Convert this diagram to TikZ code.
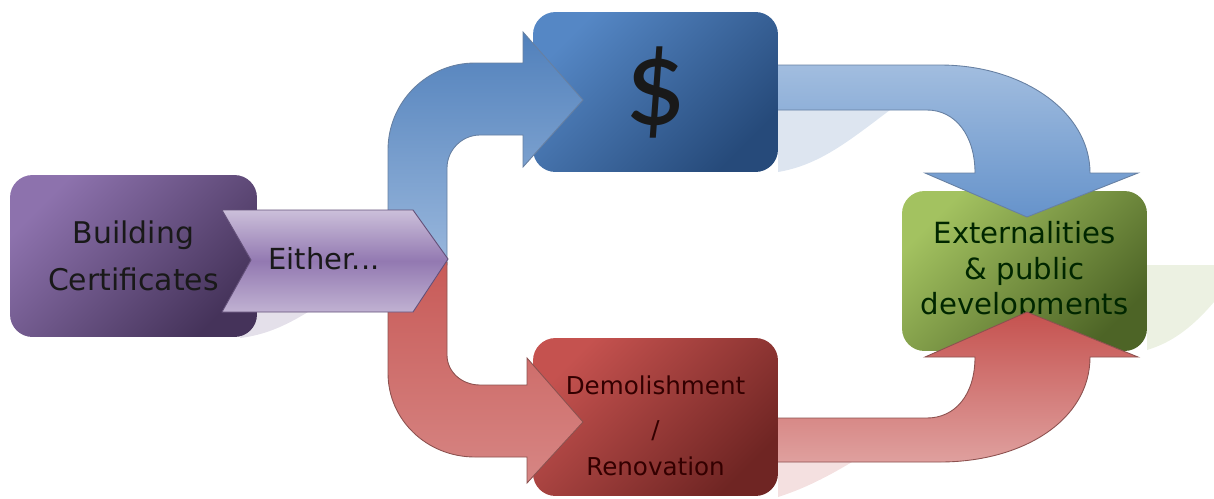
\documentclass[tikz,border=0pt]{standalone}
\usepackage{fontspec}
\setmainfont{DejaVu Sans}
\newfontfamily\dollarfont{Carlito}
\usepackage{xcolor}
\usetikzlibrary{calc}

\definecolor{purpA}{HTML}{8D72AD}
\definecolor{purpB}{HTML}{45335A}
\definecolor{blueA}{HTML}{5587C5}
\definecolor{blueB}{HTML}{264A7A}
\definecolor{redA}{HTML}{C5524F}
\definecolor{redB}{HTML}{6F2523}
\definecolor{greenA}{HTML}{A3C260}
\definecolor{greenB}{HTML}{4D6426}

\begin{document}
\begin{tikzpicture}[
  x=0.02cm, y=-0.02cm,
  box/.style={rounded corners=0.45cm, minimum width=4.9cm, minimum height=3.2cm, align=center, text=black!90},
  purplebox/.style={box, top color=purpA, bottom color=purpB, shading angle=45},
  bluebox/.style={box, top color=blueA, bottom color=blueB, shading angle=45},
  redbox/.style={box, top color=redA, bottom color=redB, shading angle=45},
  greenbox/.style={box, top color=greenA, bottom color=greenB, shading angle=45},
  bluearrow/.style={draw=blueB!70, line width=0.5pt},
  redarrow/.style={draw=redB!80, line width=0.5pt}
]
\useasboundingbox (0,0) rectangle (1214,498);

% reflections
\fill[fill={rgb,255:red,221;green,229;blue,240}] (778,110) -- (890,110) .. controls (850,140) and (820,165) .. (778,172) -- cycle;
\fill[fill={rgb,255:red,244;green,224;blue,224}] (778,462) -- (852,462) .. controls (822,480) and (800,490) .. (778,497) -- cycle;
\fill[fill={rgb,255:red,236;green,241;blue,226}] (1147,265) -- (1214,265) -- (1214,302) .. controls (1190,330) and (1170,343) .. (1147,350) -- cycle;
\fill[fill={rgb,255:red,228;green,224;blue,234}] (250,312) -- (308,312) .. controls (285,326) and (265,335) .. (240,338) -- cycle;

\node[greenbox, font=\fontsize{16.6}{20}\selectfont, text=black!85!green] (extern) at (1024.5,271) {Externalities\\ \& public\\ developments};

% arrows out of the middle boxes
\path[bluearrow, top color=blueA!55!white, bottom color=blueA!90!white, shading angle=0]
  (760,65) -- (940,65) .. controls (1023,65) and (1090,112) .. (1090,173) -- (1138,173) -- (1027,217)
  -- (925,173) -- (975,173) .. controls (975,135) and (955,110) .. (927,110) -- (760,110) -- cycle;
\path[redarrow, top color=redA, bottom color=redA!55!white, shading angle=0]
  (760,418) -- (927,418) .. controls (955,418) and (975,395) .. (975,357) -- (925,357) -- (1027,312)
  -- (1138,357) -- (1090,357) .. controls (1090,420) and (1023,462) .. (940,462) -- (760,462) -- cycle;

\node[bluebox, font=\dollarfont\fontsize{70}{70}\selectfont] (money) at (655.5,92) {\$};
\node[redbox, minimum height=3.16cm, font=\fontsize{14}{24}\selectfont, text=black!80!red] (demol) at (655.5,417)
  {\raisebox{-9pt}[0pt][0pt]{\begin{tabular}{c}Demolishment\\[1pt] /\\[-3pt] Renovation\end{tabular}}};

% arrows out of the chevron
\path[bluearrow, top color=blueA!95!black, bottom color=blueA!60!white, shading angle=0]
  (388,265) -- (388,150) .. controls (388,102) and (427,63) .. (475,63) -- (523,63) -- (523,32) -- (583,100)
  -- (523,167) -- (523,135) -- (480,135) .. controls (462,135) and (447,150) .. (447,168) -- (447,265) -- cycle;
\path[redarrow, top color=redA!95!white, bottom color=redA!70!white, shading angle=0]
  (388,262) -- (388,373) .. controls (388,420) and (427,457) .. (475,457) -- (527,457) -- (527,483) -- (583,422)
  -- (527,358) -- (527,385) -- (480,385) .. controls (462,385) and (447,372) .. (447,355) -- (447,262) -- cycle;

\node[purplebox, minimum width=4.94cm, minimum height=3.24cm, font=\fontsize{17}{27}\selectfont] (cert) at (133.5,256) {Building\\ Certificates};

\path[draw=purpA!70!black, line width=0.5pt, top color=purpA!45!white, bottom color=purpA!55!white, middle color=purpA!95!white, shading angle=0]
  (222,210) -- (413,210) -- (448,259) -- (413,312) -- (222,312) -- (251,260) -- cycle;
\node[font=\fontsize{16.5}{20}\selectfont, text=black!90] (either) at (324,259) {Either...};
\end{tikzpicture}
\end{document}
